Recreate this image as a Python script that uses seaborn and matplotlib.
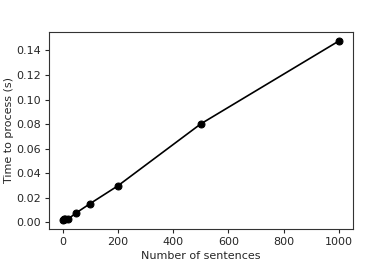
import numpy as np
import pandas as pd
import matplotlib
matplotlib.use('Agg')
import matplotlib.pyplot as plt
import seaborn as sns

# dati
n_sentences = [1, 5, 10, 20, 50, 100, 200, 500, 1000]
time_s = [0.002, 0.0025, 0.003, 0.0028, 0.0079, 0.0154, 0.0298, 0.0802, 0.1477]

df = pd.DataFrame({'n': n_sentences, 't': time_s})

sns.set_style('ticks')
plt.rcParams['font.family'] = ['DejaVu Sans']

fig = plt.figure(figsize=(3.92, 2.62), dpi=100)
ax = fig.add_axes([0.125, 0.126, 0.775, 0.752])
sns.lineplot(data=df, x='n', y='t', marker='o', color='black', markersize=5,
             markeredgecolor='black', linewidth=1.2, ax=ax)
ax.set_xlabel('Number of sentences', fontsize=8, labelpad=3)
ax.set_ylabel('Time to process (s)', fontsize=8, labelpad=2)
ax.set_xticks([0, 200, 400, 600, 800, 1000])
ax.set_yticks(np.arange(0, 0.141, 0.02))
ax.yaxis.set_major_formatter(matplotlib.ticker.FormatStrFormatter('%.2f'))
ax.tick_params(labelsize=8, length=3, width=0.8, pad=2.5)
for s in ax.spines.values():
    s.set_linewidth(0.8)
    s.set_color('#333333')
fig.savefig('out.png', dpi=100)
